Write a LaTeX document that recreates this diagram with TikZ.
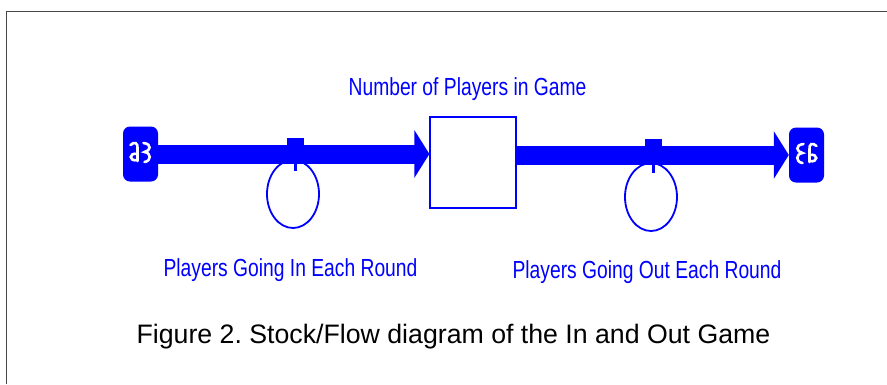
\documentclass[tikz,border=0pt]{standalone}
\usepackage{fontspec}
\setmainfont{Liberation Sans}
\newfontfamily\narrowsans[FakeStretch=0.78]{Liberation Sans}
\usetikzlibrary{arrows.meta, positioning, shapes.geometric}
\definecolor{vensimblue}{RGB}{0,0,255}
\definecolor{framegray}{RGB}{70,70,70}
\frenchspacing

\begin{document}
\begin{tikzpicture}[
  x=1pt, y=-1pt,
  stock/.style={rectangle, draw=vensimblue, line width=1.2pt,
    minimum width=86pt, minimum height=91pt, inner sep=0pt},
  cloudbox/.style={rectangle, fill=vensimblue, rounded corners=7pt,
    minimum width=35pt, minimum height=55pt, inner sep=0pt},
  cloudmark/.style={white, line width=2.6pt, line cap=round},
  valve/.style={ellipse, draw=vensimblue, line width=1.8pt,
    minimum width=52pt, minimum height=68pt, inner sep=0pt},
  valvebar/.style={rectangle, fill=vensimblue, minimum width=17pt,
    minimum height=8pt, inner sep=0pt},
  stem/.style={vensimblue, line width=3pt},
  pipe/.style={vensimblue, line width=19pt,
    -{Triangle[length=15pt, width=47pt]}},
  flowlabel/.style={text=vensimblue, inner sep=0pt, anchor=base,
    font=\narrowsans\fontsize{24.7}{30}\selectfont}
]
  \useasboundingbox (0,0) rectangle (887,384);
  \draw[framegray, line width=1pt] (6.5,384) -- (6.5,11.5) -- (887,11.5);

  % stock and its name
  \node[stock] (players) at (473,162.5) {};
  \node[flowlabel] (playerslbl) at (467.5,95) {Number of Players in Game};

  % source and sink
  \node[cloudbox] (srcL) at (140.5,154) {};
  \node[cloudbox] (sinkR) at (806.5,155) {};
  \begin{scope}[shift={(srcL.center)}]
    \draw[cloudmark] (-10,-9) .. controls (-6,-13) and (-2,-11) .. (-3,-5) -- (-3,7);
    \draw[cloudmark] (-3,0) .. controls (-12,-2) and (-12,8) .. (-3,6);
    \draw[cloudmark] (3,-11) .. controls (12,-10) and (10,-3) .. (4,-2)
      .. controls (11,-1) and (11,7) .. (4,8);
  \end{scope}
  \begin{scope}[shift={(sinkR.center)}, xscale=-1]
    \draw[cloudmark] (-10,-9) .. controls (-6,-13) and (-2,-11) .. (-3,-5) -- (-3,7);
    \draw[cloudmark] (-3,0) .. controls (-12,-2) and (-12,8) .. (-3,6);
    \draw[cloudmark] (3,-11) .. controls (12,-10) and (10,-3) .. (4,-2)
      .. controls (11,-1) and (11,7) .. (4,8);
  \end{scope}

  % flows
  \draw[pipe] (srcL.east) -- (srcL.east -| players.west);
  \draw[pipe] (players.east |- sinkR.west) -- (sinkR.west);

  % valves
  \node[valvebar] (barL) at (295.5,142) {};
  \node[valvebar] (barR) at (653.5,143) {};
  \node[valve] (rateL) at (293,194) {};
  \node[valve] (rateR) at (651,197) {};
  \draw[stem] (barL.center) -- ++(0,29);
  \draw[stem] (barR.center) -- ++(0,30);

  \node[flowlabel] (inlbl) at (290.5,276.7) {Players Going In Each Round};
  \node[flowlabel] (outlbl) at (647,278.7) {Players Going Out Each Round};

  \node[inner sep=0pt, anchor=base, font=\fontsize{26.7}{32}\selectfont]
    (caption) at (453.5,343.3) {Figure 2. Stock/Flow diagram of the In and Out Game};
\end{tikzpicture}
\end{document}
